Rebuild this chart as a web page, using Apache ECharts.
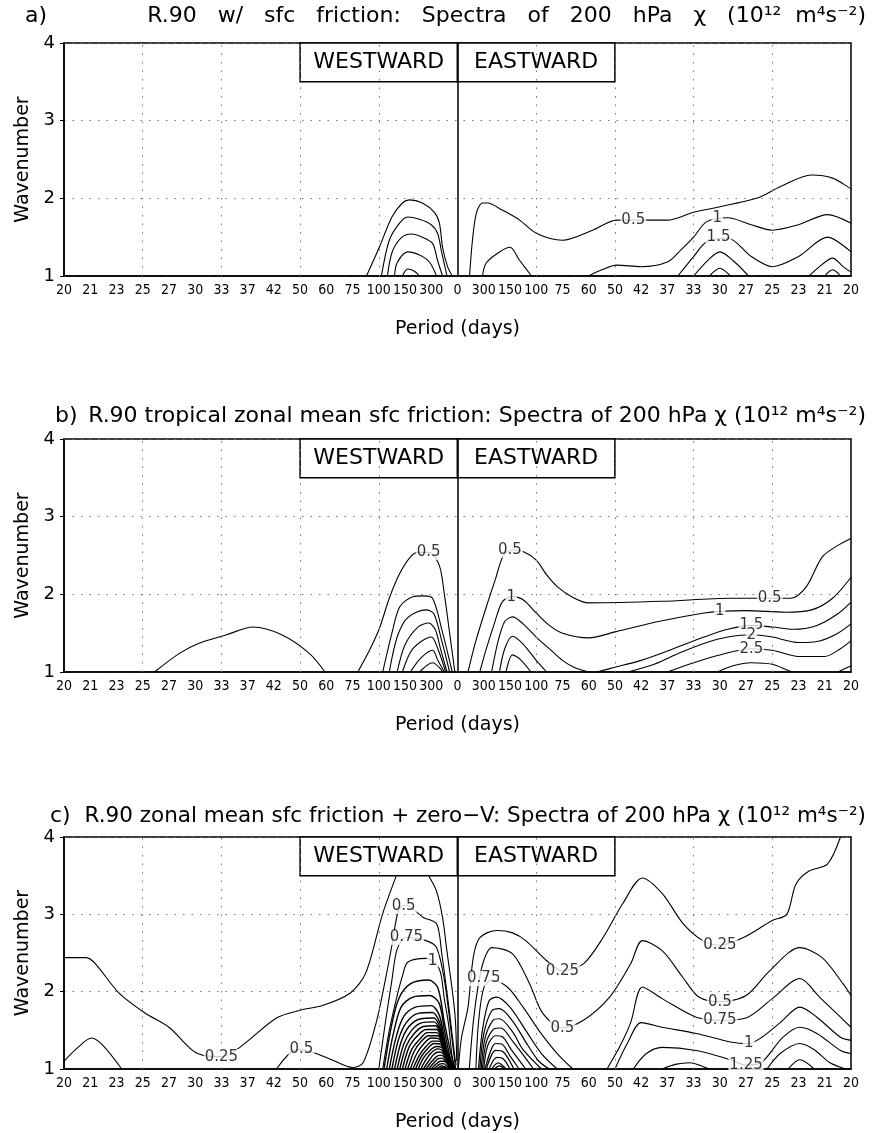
<!DOCTYPE html>
<html>
<head>
<meta charset="utf-8">
<script src="https://cdn.jsdelivr.net/npm/echarts@6/dist/echarts.min.js"></script>
<style>
html, body { margin: 0; padding: 0; background: #fff; }
#box { width: 876px; height: 1133px; }
</style>
</head>
<body>
<div id="box"></div>
<script>
// x positions are indices into periodLabels (0 = left "20", 15 = "0", 30 = right "20")
var periodLabels = ['20', '21', '23', '25', '27', '30', '33', '37', '42', '50', '60', '75', '100', '150', '300',
    '0', '300', '150', '100', '75', '60', '50', '42', '37', '33', '30', '27', '25', '23', '21', '20'];
var waveTicks = [1, 2, 3, 4];

var titles = [
    ['a)', 'R.90   w/   sfc   friction:   Spectra   of   200   hPa   χ   (10¹²  m⁴s⁻²)'],
    ['b)', 'R.90 tropical zonal mean sfc friction: Spectra of 200 hPa χ (10¹² m⁴s⁻²)'],
    ['c)', 'R.90 zonal mean sfc friction + zero−V: Spectra of 200 hPa χ (10¹² m⁴s⁻²)']
];

// ---- panel a contours [period index, wavenumber]
var contoursA = [
    [[11.53, 1], [12.02, 1.37], [12.5, 1.76], [12.9, 1.94], [13.17, 1.98], [13.66, 1.94], [14.12, 1.82], [14.31, 1.68], [14.43, 1.37], [14.62, 1.12], [14.8, 1]],
    [[12.1, 1], [12.4, 1.46], [12.79, 1.68], [13.1, 1.76], [13.55, 1.73], [14.0, 1.66], [14.24, 1.55], [14.4, 1.3], [14.6, 1]],
    [[12.33, 1], [12.5, 1.3], [12.85, 1.49], [13.24, 1.54], [13.66, 1.5], [14.05, 1.42], [14.24, 1.2], [14.43, 1]],
    [[12.6, 1], [12.7, 1.17], [13.1, 1.31], [13.55, 1.27], [13.93, 1.18], [14.2, 1]],
    [[12.9, 1], [13.1, 1.09], [13.36, 1.06], [13.55, 1]],
    [[15.46, 1], [15.57, 1.46], [15.72, 1.81], [15.95, 1.94], [16.15, 1.94], [16.7, 1.85], [17.37, 1.72], [18.0, 1.55], [19.0, 1.46], [20.15, 1.59], [21.07, 1.72], [23.0, 1.72], [24.0, 1.82], [26.4, 2.0], [27.3, 2.15], [28.5, 2.3], [29.3, 2.26], [30, 2.12]],
    [[15.95, 1], [16.1, 1.17], [16.6, 1.31], [17.0, 1.37], [17.37, 1.2], [17.82, 1]],
    [[20.0, 1], [20.5, 1.08], [21.07, 1.14], [22.0, 1.12], [23.0, 1.18], [23.5, 1.33], [24.0, 1.5], [24.5, 1.7], [25.3, 1.75], [26.2, 1.66], [27.0, 1.59], [28.0, 1.66], [29.1, 1.79], [30, 1.68]],
    [[23.4, 1], [24.0, 1.25], [24.5, 1.44], [25.3, 1.49], [26.2, 1.25], [27.0, 1.12], [28.0, 1.25], [29.1, 1.5], [30, 1.31]],
    [[24.0, 1], [24.6, 1.22], [25.0, 1.31], [25.5, 1.2], [26.1, 1]],
    [[24.6, 1], [25.0, 1.1], [25.4, 1]],
    [[28.4, 1], [28.9, 1.15], [29.3, 1.23], [29.7, 1.12], [30, 1.05]],
    [[29.0, 1], [29.3, 1.08], [29.6, 1]]
];
var labelsA = [[21.7, 1.72, '0.5'], [24.9, 1.75, '1'], [24.95, 1.5, '1.5']];

// ---- panel b contours
var contoursB = [
    [[3.45, 1], [4.4, 1.24], [5.15, 1.37], [6.2, 1.48], [7.2, 1.58], [8.3, 1.48], [9.35, 1.24], [9.95, 1]],
    [[11.2, 1], [11.6, 1.25], [12.0, 1.54], [12.4, 1.95], [12.8, 2.27], [13.2, 2.48], [13.5, 2.54], [13.9, 2.54], [14.3, 2.38], [14.5, 2.0], [14.7, 1.5], [14.9, 1]],
    [[12.15, 1], [12.5, 1.5], [12.8, 1.84], [13.3, 1.97], [13.7, 1.98], [14.05, 1.95], [14.4, 1.55], [14.8, 1]],
    [[12.4, 1], [12.7, 1.45], [13.1, 1.7], [13.8, 1.8], [14.1, 1.75], [14.4, 1.4], [14.7, 1]],
    [[12.7, 1], [13.0, 1.35], [13.5, 1.58], [13.9, 1.63], [14.15, 1.55], [14.35, 1.3], [14.6, 1]],
    [[12.9, 1], [13.3, 1.3], [14.0, 1.45], [14.25, 1.3], [14.55, 1]],
    [[13.2, 1], [13.6, 1.18], [14.05, 1.28], [14.25, 1.15], [14.5, 1]],
    [[13.55, 1], [14.05, 1.12], [14.45, 1]],
    [[15.4, 1], [15.7, 1.4], [16.1, 1.84], [16.45, 2.2], [16.75, 2.5], [17.1, 2.57], [17.5, 2.55], [18.0, 2.44], [18.4, 2.25], [18.8, 2.1], [19.4, 1.96], [20.0, 1.89], [22.8, 1.91], [25.4, 1.95], [26.9, 1.95], [27.7, 1.95], [28.3, 2.1], [28.9, 2.48], [29.5, 2.63], [30, 2.72]],
    [[15.85, 1], [16.1, 1.3], [16.4, 1.62], [16.7, 1.9], [17.05, 1.97], [17.5, 1.93], [18.0, 1.76], [18.5, 1.6], [19.0, 1.5], [20.0, 1.44], [21.05, 1.52], [22.8, 1.66], [24.4, 1.76], [25.0, 1.78], [26.0, 1.79], [27.5, 1.77], [28.5, 1.8], [29.3, 1.95], [30, 2.22]],
    [[16.3, 1], [16.55, 1.4], [16.8, 1.65], [17.1, 1.71], [17.5, 1.62], [18.0, 1.45], [18.5, 1.3], [19.0, 1.15], [19.5, 1.05], [20.0, 1.0]],
    [[20.3, 1], [21.0, 1.06], [22.0, 1.15], [23.0, 1.27], [24.4, 1.45], [25.3, 1.55], [26.2, 1.6], [27.0, 1.58], [27.8, 1.55], [28.7, 1.6], [29.5, 1.75], [30, 1.9]],
    [[16.6, 1], [16.8, 1.3], [17.1, 1.46], [17.5, 1.36], [18.0, 1.15], [18.4, 1]],
    [[21.5, 1], [22.5, 1.1], [23.5, 1.25], [24.5, 1.38], [25.3, 1.45], [26.2, 1.48], [27.0, 1.45], [28.0, 1.38], [28.8, 1.4], [29.5, 1.5], [30, 1.62]],
    [[16.85, 1], [17.1, 1.22], [17.4, 1.16], [17.8, 1]],
    [[23.0, 1], [24.0, 1.12], [25.0, 1.22], [26.2, 1.3], [27.0, 1.28], [28.0, 1.2], [29.0, 1.2], [29.6, 1.3], [30, 1.4]],
    [[24.9, 1], [25.5, 1.08], [26.2, 1.12], [27.0, 1.1], [27.6, 1.02], [27.8, 1]],
    [[29.5, 1], [30, 1.08]]
];
var labelsB = [[13.9, 2.54, '0.5'], [17.0, 2.57, '0.5'], [17.05, 1.97, '1'], [26.9, 1.95, '0.5'],
    [25.0, 1.78, '1'], [26.2, 1.6, '1.5'], [26.2, 1.48, '2'], [26.2, 1.3, '2.5']];

// ---- panel c contours, outer levels
var contoursC = [
    [[0, 2.44], [0.85, 2.44], [1.2, 2.36], [2.1, 1.98], [3.1, 1.72], [4.0, 1.54], [4.9, 1.24], [5.4, 1.17], [6.0, 1.16], [6.7, 1.28], [8.1, 1.66], [9.0, 1.76], [9.85, 1.82], [10.9, 1.98], [11.5, 2.24], [12.14, 3.0], [12.67, 3.5]],
    [[13.9, 3.5], [14.2, 3.3], [14.43, 2.96], [14.58, 2.57], [14.9, 1.72], [14.97, 1.1]],
    [[0, 1.1], [0.5, 1.27], [1.05, 1.4], [1.5, 1.3], [2.2, 1]],
    [[8.1, 1], [8.6, 1.2], [9.0, 1.25], [9.6, 1.2], [10.2, 1.12], [11.0, 1.02], [11.4, 1.08], [11.9, 1.6], [12.3, 2.24], [12.5, 2.6], [12.75, 3.05], [13.0, 3.12], [13.7, 2.96], [14.2, 2.88], [14.4, 2.49], [14.7, 1.72], [14.9, 1.15], [14.95, 1.05]],
    [[12.0, 1], [12.25, 1.6], [12.5, 2.15], [12.7, 2.55], [13.05, 2.7], [13.8, 2.66], [14.2, 2.57], [14.5, 2.15], [14.75, 1.5], [14.93, 1]],
    [[12.15, 1], [12.4, 1.5], [12.7, 1.95], [12.9, 2.2], [13.1, 2.38], [13.8, 2.43], [14.3, 2.3], [14.5, 1.9], [14.65, 1.6], [14.8, 1.15], [14.92, 1]],
    [[15.03, 1], [15.15, 1.4], [15.4, 1.8], [15.6, 2.44], [15.85, 2.7], [16.5, 2.79], [17.1, 2.76], [17.6, 2.66], [18.4, 2.4], [19.0, 2.27], [19.8, 2.36], [20.55, 2.7], [21.3, 3.14], [22.05, 3.47], [22.8, 3.27], [23.6, 2.88], [24.35, 2.66], [25.0, 2.6], [25.9, 2.7], [27.0, 2.92], [27.55, 3.0], [27.9, 3.39], [28.4, 3.56], [29.1, 3.65], [29.6, 4.0]],
    [[15.45, 1], [15.6, 1.6], [15.8, 2.1], [16.0, 2.4], [16.3, 2.57], [17.1, 2.49], [17.75, 2.1], [18.25, 1.72], [19.0, 1.53], [19.8, 1.63], [20.8, 1.93], [21.6, 2.36], [22.05, 2.66], [22.8, 2.53], [23.6, 2.18], [24.2, 1.93], [25.0, 1.87], [26.0, 1.95], [26.9, 2.27], [28.05, 2.57], [28.9, 2.44], [29.7, 2.1], [30, 1.95]],
    [[15.7, 1], [15.8, 1.6], [16.0, 2.05], [16.3, 2.15], [16.9, 2.06], [17.5, 1.8], [18.1, 1.5], [18.8, 1.2], [19.4, 1]],
    [[20.7, 1], [21.2, 1.3], [21.6, 1.6], [22.05, 2.06], [22.8, 1.91], [24.1, 1.67], [25.0, 1.63], [26.0, 1.66], [27.0, 1.91], [28.05, 2.17], [28.8, 1.93], [29.6, 1.67], [30, 1.54]],
    [[21.0, 1], [21.5, 1.35], [22.0, 1.6], [22.8, 1.54], [24.1, 1.46], [25.4, 1.35], [26.1, 1.33], [26.6, 1.41], [27.3, 1.6], [28.05, 1.8], [28.7, 1.67], [29.6, 1.41], [30, 1.37]],
    [[21.7, 1], [22.2, 1.2], [22.8, 1.28], [24.1, 1.24], [25.4, 1.12], [26.0, 1.05], [26.6, 1.09], [27.4, 1.41], [28.05, 1.54], [28.7, 1.46], [29.6, 1.24], [30, 1.2]],
    [[22.8, 1], [23.3, 1.06], [23.85, 1.08], [24.3, 1.04], [24.6, 1]],
    [[26.8, 1], [27.3, 1.2], [28.05, 1.33], [28.6, 1.25], [29.2, 1.08], [29.8, 1]],
    [[27.6, 1], [28.05, 1.12], [28.6, 1]]
];
// panel c, packed westward levels near 300 days
var denseWestC = [
    [[12.2, 1], [12.45, 1.5], [12.75, 1.9], [13.2, 2.1], [13.9, 2.15], [14.25, 2.05], [14.5, 1.6], [14.75, 1.2], [14.9, 1]],
    [[12.3, 1], [12.55, 1.45], [12.85, 1.8], [13.3, 1.93], [13.95, 1.95], [14.3, 1.85], [14.5, 1.5], [14.72, 1.15], [14.88, 1]],
    [[12.4, 1], [12.65, 1.4], [12.95, 1.68], [13.4, 1.8], [14.0, 1.82], [14.3, 1.7], [14.5, 1.4], [14.7, 1.1], [14.87, 1]],
    [[12.5, 1], [12.75, 1.38], [13.05, 1.6], [13.5, 1.72], [14.05, 1.73], [14.32, 1.6], [14.52, 1.32], [14.86, 1]],
    [[12.6, 1], [12.85, 1.35], [13.15, 1.55], [13.6, 1.65], [14.1, 1.66], [14.35, 1.52], [14.55, 1.25], [14.85, 1]],
    [[12.7, 1], [12.95, 1.32], [13.25, 1.5], [13.65, 1.6], [14.1, 1.61], [14.37, 1.47], [14.57, 1.22], [14.84, 1]],
    [[12.8, 1], [13.05, 1.3], [13.35, 1.46], [13.7, 1.55], [14.15, 1.56], [14.4, 1.42], [14.6, 1.2], [14.83, 1]],
    [[12.9, 1], [13.15, 1.28], [13.45, 1.42], [13.8, 1.51], [14.2, 1.51], [14.42, 1.38], [14.62, 1.18], [14.82, 1]],
    [[13.0, 1], [13.25, 1.25], [13.55, 1.38], [13.85, 1.47], [14.2, 1.47], [14.45, 1.34], [14.64, 1.16], [14.81, 1]],
    [[13.1, 1], [13.35, 1.23], [13.6, 1.35], [13.9, 1.43], [14.25, 1.43], [14.47, 1.3], [14.8, 1]],
    [[13.2, 1], [13.45, 1.2], [13.7, 1.32], [14.0, 1.4], [14.3, 1.39], [14.5, 1.26], [14.79, 1]],
    [[13.3, 1], [13.55, 1.18], [13.8, 1.29], [14.05, 1.36], [14.3, 1.36], [14.52, 1.23], [14.78, 1]],
    [[13.4, 1], [13.62, 1.16], [13.85, 1.26], [14.1, 1.33], [14.35, 1.32], [14.54, 1.2], [14.77, 1]],
    [[13.5, 1], [13.7, 1.14], [13.95, 1.24], [14.2, 1.29], [14.4, 1.28], [14.56, 1.17], [14.76, 1]],
    [[13.6, 1], [13.8, 1.12], [14.0, 1.21], [14.25, 1.26], [14.42, 1.24], [14.58, 1.14], [14.75, 1]],
    [[13.7, 1], [13.9, 1.1], [14.1, 1.19], [14.3, 1.22], [14.45, 1.2], [14.74, 1]],
    [[13.8, 1], [14.0, 1.09], [14.2, 1.16], [14.35, 1.18], [14.5, 1.15], [14.73, 1]],
    [[13.9, 1], [14.1, 1.08], [14.25, 1.13], [14.4, 1.14], [14.72, 1]],
    [[14.0, 1], [14.2, 1.07], [14.35, 1.1], [14.5, 1.1], [14.71, 1]],
    [[14.1, 1], [14.3, 1.06], [14.45, 1.07], [14.7, 1]],
    [[14.2, 1], [14.4, 1.04], [14.68, 1]],
    [[14.3, 1], [14.45, 1.025], [14.65, 1]]
];
// panel c, packed eastward levels near 150 days
var denseEastC = [
    [[15.8, 1], [15.95, 1.5], [16.2, 1.88], [16.5, 1.93], [17.0, 1.8], [17.6, 1.5], [18.2, 1.2], [18.8, 1]],
    [[15.85, 1], [16.0, 1.45], [16.3, 1.75], [16.6, 1.78], [17.1, 1.62], [17.6, 1.35], [18.1, 1.1], [18.5, 1]],
    [[15.9, 1], [16.05, 1.4], [16.35, 1.63], [16.6, 1.65], [17.1, 1.48], [17.5, 1.25], [18.2, 1]],
    [[15.95, 1], [16.1, 1.35], [16.4, 1.52], [16.65, 1.53], [17.1, 1.36], [17.9, 1]],
    [[16.0, 1], [16.15, 1.3], [16.45, 1.43], [16.7, 1.42], [17.05, 1.25], [17.6, 1]],
    [[16.05, 1], [16.45, 1.33], [16.7, 1.32], [17.0, 1.17], [17.35, 1]],
    [[16.1, 1], [16.45, 1.24], [16.75, 1.22], [17.15, 1]],
    [[16.2, 1], [16.5, 1.15], [16.75, 1.13], [17.0, 1]],
    [[16.3, 1], [16.55, 1.08], [16.85, 1]],
    [[16.4, 1], [16.6, 1.04], [16.8, 1]]
];
var labelsC = [[6.0, 1.16, '0.25'], [9.05, 1.26, '0.5'], [12.95, 3.1, '0.5'], [13.05, 2.7, '0.75'], [14.05, 2.4, '1'],
    [16.0, 2.17, '0.75'], [19.0, 2.27, '0.25'], [19.0, 1.53, '0.5'], [25.0, 2.6, '0.25'], [25.0, 1.87, '0.5'],
    [25.0, 1.63, '0.75'], [26.1, 1.33, '1'], [26.0, 1.05, '1.25']];

var panelTops = [43, 439, 837];
var titleOffsets = [43, 39, 37];
var tagLefts = [20, 50, 45];
var font = "'DejaVu Sans', 'Liberation Sans', sans-serif";

// dotted period grid every third label, skipping the edges and the zero column
var dottedIdx = [];
periodLabels.forEach(function (p, i) {
    if (i % 3 === 0 && i % 15 !== 0) dottedIdx.push(i);
});

var grids = [], xAxes = [], yAxes = [], series = [], titleList = [];

function lineSeries(lines, gi, width) {
    lines.forEach(function (pts) {
        series.push({
            type: 'line', xAxisIndex: gi, yAxisIndex: gi, data: pts,
            smooth: 0.3, symbol: 'none', silent: true, z: 2,
            lineStyle: { color: '#000', width: width || 1.1 }
        });
    });
}

panelTops.forEach(function (top, gi) {
    grids.push({ left: 64, right: 25, top: top, height: 233, show: true, borderColor: '#000', borderWidth: 1.5, backgroundColor: 'transparent' });
    xAxes.push({
        gridIndex: gi, type: 'value', min: 0, max: periodLabels.length - 1, interval: 1,
        name: 'Period (days)', nameLocation: 'middle', nameGap: 44,
        nameTextStyle: { fontSize: 19, color: '#000', fontFamily: font },
        axisLine: { lineStyle: { color: '#000', width: 1.5 } },
        axisTick: { show: false },
        axisLabel: {
            color: '#000', fontSize: 14, fontFamily: "'DejaVu Sans Condensed', 'Liberation Sans Narrow', sans-serif", margin: 7,
            formatter: function (v) { return periodLabels[v]; }
        },
        splitLine: { show: false }
    });
    yAxes.push({
        gridIndex: gi, type: 'value', min: waveTicks[0], max: waveTicks[waveTicks.length - 1], interval: 1,
        name: 'Wavenumber', nameLocation: 'middle', nameGap: 29, nameRotate: 90,
        nameTextStyle: { fontSize: 19, color: '#000', fontFamily: font },
        axisLine: { lineStyle: { color: '#000', width: 1.5 } },
        axisTick: { show: true, length: 4, lineStyle: { color: '#000' } },
        axisLabel: { color: '#000', fontSize: 18, fontFamily: font, margin: 9 },
        splitLine: { show: true, lineStyle: { color: '#777', type: [1.5, 7], width: 1 } }
    });
    titleList.push({
        text: titles[gi][0], left: tagLefts[gi], top: top - titleOffsets[gi],
        textStyle: { fontSize: 22, fontWeight: 'normal', color: '#000', fontFamily: font }
    });
    titleList.push({
        text: titles[gi][1], right: 5, top: top - titleOffsets[gi],
        textStyle: { fontSize: gi === 2 ? 21.5 : 22, fontWeight: 'normal', color: '#000', fontFamily: font }
    });
    // grid lines, zero-period divider and the WESTWARD | EASTWARD box
    var gridLines = dottedIdx.map(function (i) { return { xAxis: i }; });
    gridLines.push({ xAxis: 15, lineStyle: { type: 'solid', color: '#000', width: 1.5 } });
    series.push({
        type: 'line', xAxisIndex: gi, yAxisIndex: gi, data: [], silent: true, z: 5,
        markLine: {
            silent: true, symbol: ['none', 'none'], label: { show: false },
            lineStyle: { color: '#777', type: [1.5, 7], width: 1 },
            data: gridLines
        },
        markArea: {
            silent: true,
            itemStyle: { color: '#fff', borderColor: '#000', borderWidth: 1.5 },
            label: { show: true, position: 'inside', color: '#000', fontSize: 22, fontFamily: font },
            data: [
                [{ xAxis: 9, yAxis: 3.5, name: 'WESTWARD' }, { xAxis: 15, yAxis: 4 }],
                [{ xAxis: 15, yAxis: 3.5, name: 'EASTWARD' }, { xAxis: 21, yAxis: 4 }]
            ]
        }
    });
});

lineSeries(contoursA, 0);
lineSeries(contoursB, 1);
lineSeries(contoursC, 2);
lineSeries(denseWestC, 2, 1.4);
lineSeries(denseEastC, 2, 1.2);

[labelsA, labelsB, labelsC].forEach(function (labels, gi) {
    series.push({
        type: 'scatter', xAxisIndex: gi, yAxisIndex: gi, silent: true, z: 8,
        symbolSize: 1, itemStyle: { color: 'rgba(0,0,0,0)' },
        data: labels.map(function (l) { return { value: [l[0], l[1]], name: l[2] }; }),
        label: {
            show: true, position: 'inside', formatter: '{b}', color: '#000',
            fontSize: 15, fontFamily: font, backgroundColor: '#fff', padding: [0, 1]
        }
    });
});

var chart = echarts.init(document.getElementById('box'));
chart.setOption({
    animation: false,
    backgroundColor: '#fff',
    title: titleList,
    grid: grids,
    xAxis: xAxes,
    yAxis: yAxes,
    series: series
});
</script>
</body>
</html>
